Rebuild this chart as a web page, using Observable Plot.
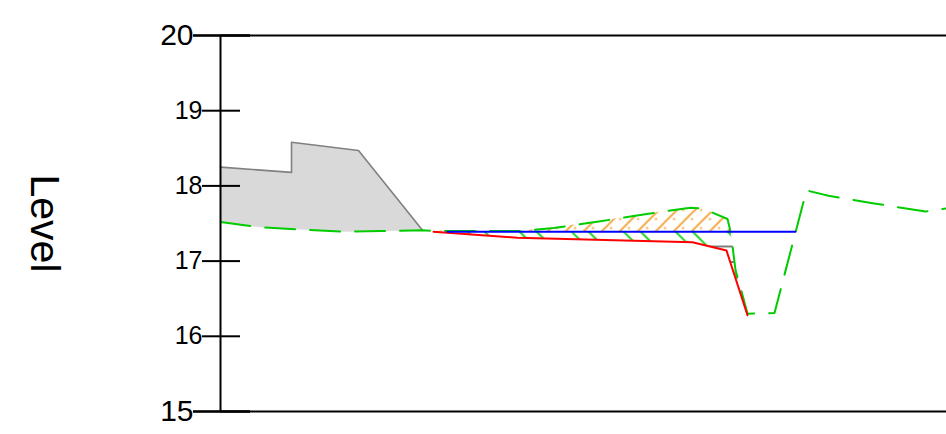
<!DOCTYPE html>
<html>
<head>
<meta charset="utf-8">
<script src="https://cdn.jsdelivr.net/npm/d3@7"></script>
<script src="https://cdn.jsdelivr.net/npm/@observablehq/plot@0.6"></script>
<style>
html, body { margin: 0; padding: 0; background: #ffffff; }
svg { display: block; }
</style>
</head>
<body>
<div id="chart"></div>
<script>
// ---- data (x = distance along the section, level = elevation) ----
const midTicks = [16, 17, 18, 19];
const endTicks = [15, 20];
const axisLabel = "Level";

const grayTopX     = [0, 71, 71, 138, 202];
const grayTopLevel = [18.25, 18.18, 18.58, 18.47, 17.41];

const greenX     = [0, 40, 80, 123, 160, 202, 213, 300, 333, 380, 423, 470, 482, 507, 509, 511, 515, 519, 527, 554, 586, 608, 652, 705, 726];
const greenLevel = [17.52, 17.45, 17.42, 17.39, 17.40, 17.41, 17.40, 17.40, 17.44, 17.53, 17.62, 17.71, 17.70, 17.56, 17.45, 17.31, 16.88, 16.70, 16.30, 16.31, 17.94, 17.87, 17.77, 17.66, 17.70];

const redX     = [213, 297, 472, 506, 527];
const redLevel = [17.39, 17.31, 17.25, 17.14, 16.28];

const blueX     = [227, 575];
const blueLevel = 17.39;

// ---- tables built from the arrays ----
const green = greenX.map((x, i) => ({x, level: greenLevel[i]}));
const red = redX.map((x, i) => ({x, level: redLevel[i]}));
const blue = blueX.map(x => ({x, level: blueLevel}));
const grayTop = grayTopX.map((x, i) => ({x, level: grayTopLevel[i]}));
const grayPoly = grayTop.concat(green.filter(d => d.x <= 202).reverse());

function interp(pts, x) {
  for (let i = 1; i < pts.length; i++) {
    const a = pts[i - 1], b = pts[i];
    if (x >= a.x && x <= b.x) return a.level + (b.level - a.level) * (x - a.x) / (b.x - a.x);
  }
  return pts[pts.length - 1].level;
}
// crossing of green with blue on the descent
const crossX = 509 + 2 * (interp(green, 509) - blueLevel) / (interp(green, 509) - interp(green, 511));
const aboveBlue = green.filter(d => d.x >= 213 && d.x <= 511);
const belowPoly = [
  {x: blueX[0], level: blueLevel},
  {x: crossX, level: blueLevel},
  ...green.filter(d => d.x > crossX && d.x <= 527),
  ...red.filter(d => d.x >= blueX[0]).reverse(),
  {x: blueX[0], level: interp(red, blueX[0])}
];

const font = "'Liberation Sans', Arial, Helvetica, sans-serif";

const chart = Plot.plot({
  width: 946,
  height: 434,
  marginLeft: 220,
  marginRight: 0,
  marginTop: 35,
  marginBottom: 23,
  x: {domain: [0, 726], axis: null},
  y: {domain: [15, 20], axis: null},
  style: {fontFamily: font, background: "#ffffff", color: "#000000", overflow: "visible"},
  marks: [
    Plot.line(grayPoly, {x: "x", y: "level", fill: "#d9d9d9", stroke: "none"}),
    Plot.line(grayTop, {x: "x", y: "level", stroke: "#808080", strokeWidth: 1.6}),
    Plot.areaY(aboveBlue, {x: "x", y1: () => blueLevel, y2: d => Math.max(d.level, blueLevel), fill: "url(#hatchOrange)"}),
    Plot.line(belowPoly, {x: "x", y: "level", fill: "url(#hatchGreen)", stroke: "none"}),
    Plot.line(belowPoly, {x: "x", y: "level", fill: "url(#hatchBlack)", stroke: "none"}),
    Plot.line(green, {x: "x", y: "level", stroke: "#00cc00", strokeWidth: 2, strokeDasharray: "30,15"}),
    Plot.line(red, {x: "x", y: "level", stroke: "#ff0000", strokeWidth: 2}),
    Plot.line(blue, {x: "x", y: "level", stroke: "#0000ff", strokeWidth: 2}),
    Plot.ruleX([0], {stroke: "#000000", strokeWidth: 2}),
    Plot.ruleY(endTicks, {stroke: "#000000", strokeWidth: 2}),
    Plot.ruleY(midTicks, {x1: 0, x2: 20, stroke: "#000000", strokeWidth: 2}),
    Plot.ruleY(endTicks, {x1: 0, x2: 30, stroke: "#000000", strokeWidth: 2.6}),
    Plot.axisY(midTicks, {tickSize: 18, tickPadding: 0, fontSize: 25, strokeWidth: 2, label: null, tickFormat: d => String(d), fontFamily: font}),
    Plot.axisY(endTicks, {tickSize: 27, tickPadding: 0, fontSize: 30, strokeWidth: 2.6, label: null, tickFormat: d => String(d), fontFamily: font}),
    Plot.text([axisLabel], {frameAnchor: "middle", dx: -539, rotate: 90, fontSize: 41, fontFamily: font, fill: "#000000"})
  ]
});

const svgEl = chart.tagName.toLowerCase() === "svg" ? chart : chart.querySelector("svg");
const NS = "http://www.w3.org/2000/svg";
const defs = document.createElementNS(NS, "defs");
defs.innerHTML = `
<pattern id="hatchOrange" patternUnits="userSpaceOnUse" x="15.5" y="7.5" width="18" height="18">
  <path d="M-1,19L19,-1M-1,1L1,-1M17,19L19,17" stroke="#f29a26" stroke-width="1.6" fill="none"/>
  <rect x="0.6" y="3.6" width="1.9" height="1.9" fill="#f29a26"/>
  <rect x="9.6" y="12.6" width="1.9" height="1.9" fill="#f29a26"/>
</pattern>
<pattern id="hatchGreen" patternUnits="userSpaceOnUse" x="28" y="0" width="52" height="52">
  <path d="M-1,-1L53,53M16,-1L53,36M-1,34L18,53M51,-1L53,1M-1,51L1,53" stroke="#00cc00" stroke-width="1.6" fill="none"/>
</pattern>
<pattern id="hatchBlack" patternUnits="userSpaceOnUse" x="0" y="5.75" width="10" height="15.5">
  <path d="M-1,7.75L11,7.75" stroke="#000000" stroke-width="1" fill="none"/>
</pattern>`;
svgEl.insertBefore(defs, svgEl.firstChild);

document.getElementById("chart").append(chart);
</script>
</body>
</html>
